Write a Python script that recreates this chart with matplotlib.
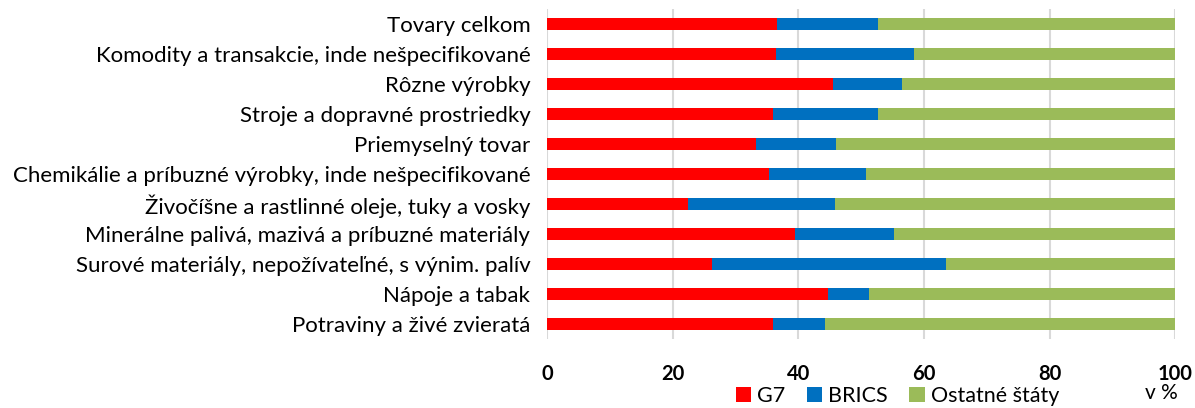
import matplotlib.pyplot as plt
import numpy as np

categories = [
    'Tovary celkom',
    'Komodity a transakcie, inde nešpecifikované',
    'Rôzne výrobky',
    'Stroje a dopravné prostriedky',
    'Priemyselný tovar',
    'Chemikálie a príbuzné výrobky, inde nešpecifikované',
    'Živočíšne a rastlinné oleje, tuky a vosky',
    'Minerálne palivá, mazivá a príbuzné materiály',
    'Surové materiály, nepožívateľné, s výnim. palív',
    'Nápoje a tabak',
    'Potraviny a živé zvieratá',
]
g7 = [36.6, 36.4, 45.5, 36.0, 33.2, 35.4, 22.5, 39.5, 26.3, 44.7, 36.0]
brics = [16.1, 22.0, 11.0, 16.7, 12.8, 15.4, 23.3, 15.8, 37.2, 6.5, 8.2]
others = [100 - a - b for a, b in zip(g7, brics)]

plt.rcParams['font.family'] = ['Lato', 'DejaVu Sans']

fig = plt.figure(figsize=(11.95, 4.08), dpi=100)
ax = fig.add_axes([0.4577, 0.169, 0.5258, 0.809])

y = np.arange(len(categories))[::-1]
h = 0.4
ax.barh(y, g7, height=h, color='#FF0000', label='G7', zorder=3)
ax.barh(y, brics, left=g7, height=h, color='#0070C0', label='BRICS', zorder=3)
left2 = [a + b for a, b in zip(g7, brics)]
ax.barh(y, others, left=left2, height=h, color='#9BBB59', label='Ostatné štáty', zorder=3)

ax.set_xlim(0, 100)
ax.set_ylim(-0.5, len(categories) - 0.5)
ax.set_xticks([0, 20, 40, 60, 80, 100])
ax.set_yticks(y)
ax.set_yticklabels(categories, fontsize=16)
for lbl in ax.get_xticklabels():
    lbl.set_fontweight('bold')
    lbl.set_fontsize(14.5)
ax.tick_params(axis='y', length=0, pad=12)
ax.tick_params(axis='x', length=0, pad=18)
ax.grid(axis='x', color='#D9D9D9', linewidth=1.5, zorder=0)
for s in ax.spines.values():
    s.set_visible(False)

fig.text(0.972, 0.037, 'v %', fontsize=15, ha='center', va='center')
fig.legend(loc='center', bbox_to_anchor=(0.751, 0.03), ncol=3, frameon=False,
           fontsize=15.5, handlelength=0.7, handleheight=0.7, handletextpad=0.3,
           columnspacing=1.0, borderpad=0.1)

fig.savefig('out.png')
